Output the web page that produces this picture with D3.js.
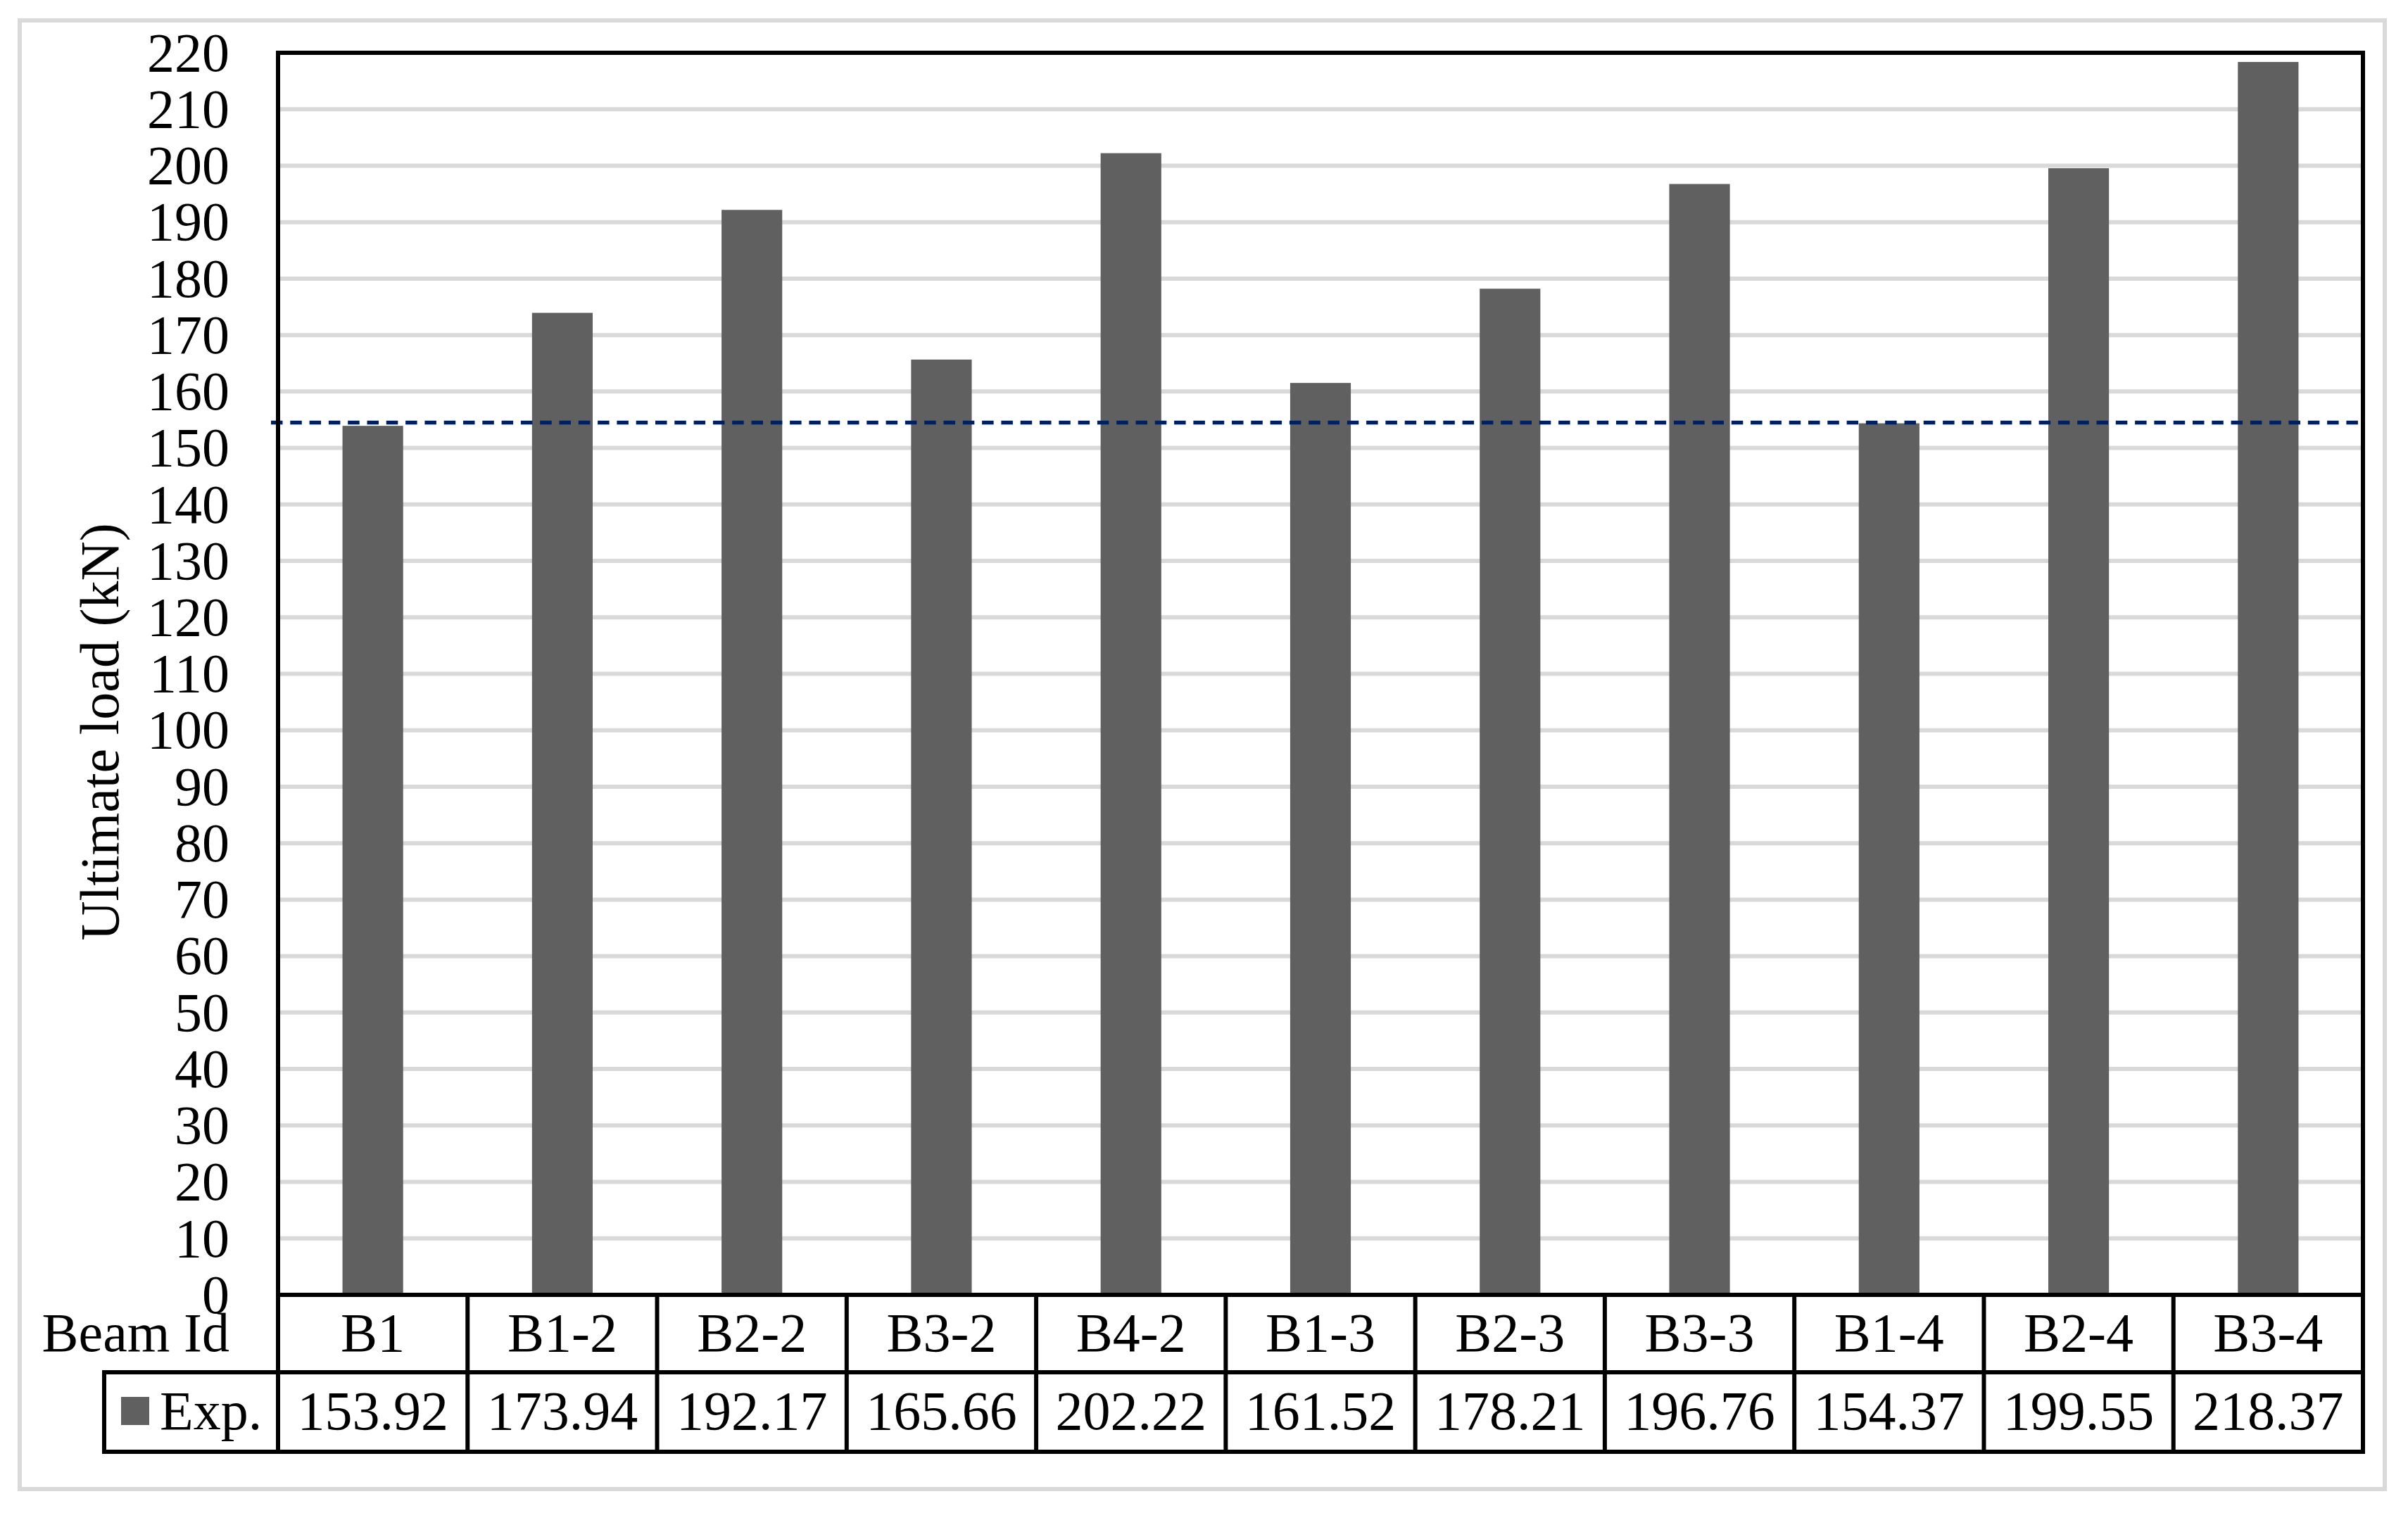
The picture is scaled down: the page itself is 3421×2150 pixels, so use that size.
<!DOCTYPE html>
<html>
<head>
<meta charset="utf-8">
<script src="https://cdn.jsdelivr.net/npm/d3@7"></script>
<style>
  html, body { margin: 0; padding: 0; background: #fff; }
  text { font-family: "Liberation Serif", "Times New Roman", serif; fill: #000; }
</style>
</head>
<body>
<div id="chart"></div>
<script>
"use strict";

// chart data
const BEAMS = ["B1", "B1-2", "B2-2", "B3-2", "B4-2", "B1-3", "B2-3", "B3-3", "B1-4", "B2-4", "B3-4"];
const EXP_LOADS = [153.92, 173.94, 192.17, 165.66, 202.22, 161.52, 178.21, 196.76, 154.37, 199.55, 218.37];
const Y_TICKS = d3.range(0, 221, 10);
const REF_LOAD = 154.5;   // dashed reference line
const SERIES_NAME = "Exp.";
const ROW_HEADER = "Beam Id";
const Y_TITLE = "Ultimate load (kN)";

const W = 3421, H = 2150;
const plot = { left: 395, right: 3357, top: 75, bottom: 1840 };
const tableRow1 = 1950, tableRow2 = 2063, tableLeft = 148;
const FONT = 78;
const LINE = 6;

const svg = d3.select("#chart")
  .append("svg")
  .attr("width", W)
  .attr("height", H);

/* outer chart border */
svg.append("rect")
  .attr("x", 28).attr("y", 29)
  .attr("width", 3360).attr("height", 2087)
  .attr("fill", "#fff")
  .attr("stroke", "#d9d9d9")
  .attr("stroke-width", LINE);

const y = d3.scaleLinear()
  .domain([0, 220])
  .range([plot.bottom, plot.top]);

// bars: gap width split evenly like Excel
const x = d3.scaleBand()
  .domain(BEAMS)
  .range([plot.left, plot.right])
  .paddingInner(0.68)
  .paddingOuter(0.34);

// table cells use the full step
const cell = d3.scaleBand()
  .domain(BEAMS)
  .range([plot.left, plot.right])
  .padding(0);

/* gridlines */
svg.append("g")
  .selectAll("line")
  .data(Y_TICKS.filter(d => d > 0 && d < 220))
  .join("line")
  .attr("x1", plot.left).attr("x2", plot.right)
  .attr("y1", d => y(d)).attr("y2", d => y(d))
  .attr("stroke", "#d9d9d9")
  .attr("stroke-width", LINE);

/* y tick labels */
svg.append("g")
  .selectAll("text")
  .data(Y_TICKS)
  .join("text")
  .attr("x", 326)
  .attr("y", d => y(d))
  .attr("dy", "0.33em")
  .attr("text-anchor", "end")
  .attr("font-size", FONT)
  .text(d => d);

/* bars */
svg.append("g")
  .selectAll("rect")
  .data(BEAMS)
  .join("rect")
  .attr("x", d => x(d))
  .attr("width", x.bandwidth())
  .attr("y", (d, i) => y(EXP_LOADS[i]))
  .attr("height", (d, i) => y(0) - y(EXP_LOADS[i]))
  .attr("fill", "#606060");

/* dashed reference line */
svg.append("line")
  .attr("x1", plot.left - 10).attr("x2", plot.right)
  .attr("y1", y(REF_LOAD)).attr("y2", y(REF_LOAD))
  .attr("stroke", "#002060")
  .attr("stroke-width", 5.3)
  .attr("stroke-dasharray", "16.5 10.8");

/* plot frame */
svg.append("rect")
  .attr("x", plot.left).attr("y", plot.top)
  .attr("width", plot.right - plot.left)
  .attr("height", plot.bottom - plot.top)
  .attr("fill", "none")
  .attr("stroke", "#000")
  .attr("stroke-width", LINE);

/* data table */
const table = svg.append("g")
  .attr("stroke", "#000")
  .attr("stroke-width", LINE)
  .attr("stroke-linecap", "square");

table.selectAll("line.div")
  .data(BEAMS.concat(["end"]))
  .join("line")
  .attr("class", "div")
  .attr("x1", (d, i) => i < BEAMS.length ? cell(d) : plot.right)
  .attr("x2", (d, i) => i < BEAMS.length ? cell(d) : plot.right)
  .attr("y1", plot.bottom).attr("y2", tableRow2);

table.append("line")
  .attr("x1", tableLeft).attr("x2", plot.right)
  .attr("y1", tableRow1).attr("y2", tableRow1);
table.append("line")
  .attr("x1", tableLeft).attr("x2", plot.right)
  .attr("y1", tableRow2).attr("y2", tableRow2);
table.append("line")
  .attr("x1", tableLeft).attr("x2", tableLeft)
  .attr("y1", tableRow1).attr("y2", tableRow2);

// row 1: beam ids
svg.append("g")
  .selectAll("text")
  .data(BEAMS)
  .join("text")
  .attr("x", d => cell(d) + cell.bandwidth() / 2)
  .attr("y", 1920)
  .attr("text-anchor", "middle")
  .attr("font-size", FONT)
  .text(d => d);

// row 2: values
svg.append("g")
  .selectAll("text")
  .data(EXP_LOADS)
  .join("text")
  .attr("x", (d, i) => cell(BEAMS[i]) + cell.bandwidth() / 2)
  .attr("y", 2031)
  .attr("text-anchor", "middle")
  .attr("font-size", FONT)
  .text(d => d.toFixed(2));

svg.append("text")
  .attr("x", 326).attr("y", 1920)
  .attr("text-anchor", "end")
  .attr("font-size", FONT)
  .text(ROW_HEADER);

// legend key in the table
svg.append("rect")
  .attr("x", 172).attr("y", 1985)
  .attr("width", 40).attr("height", 40)
  .attr("fill", "#606060");
svg.append("text")
  .attr("x", 227).attr("y", 2031)
  .attr("font-size", FONT)
  .text(SERIES_NAME);

/* y axis title */
svg.append("text")
  .attr("transform", "translate(168,1040) rotate(-90)")
  .attr("text-anchor", "middle")
  .attr("font-size", FONT)
  .text(Y_TITLE);
</script>
</body>
</html>
